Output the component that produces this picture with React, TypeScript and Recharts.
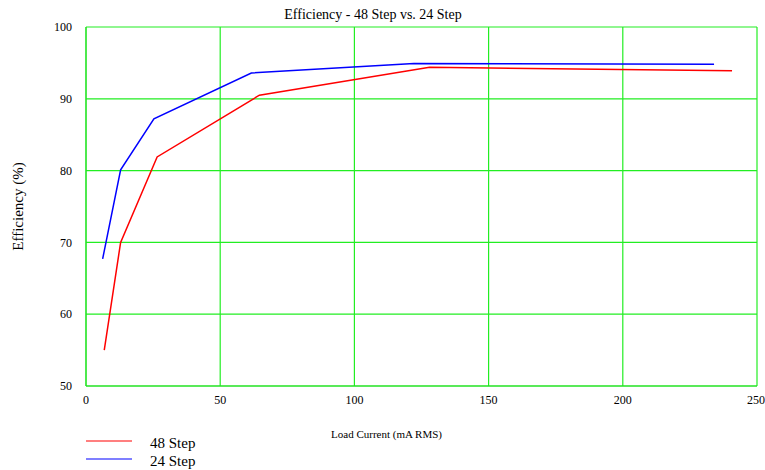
import React from 'react';
import { LineChart, Line, XAxis, YAxis, CartesianGrid, Label } from 'recharts';

const step48X = [6.8, 12.9, 26.5, 64.6, 128, 240.7];
const step48Y = [55.0, 70.0, 81.9, 90.5, 94.4, 93.9];
const step24X = [6.2, 12.9, 25.3, 61.6, 122.2, 234];
const step24Y = [67.7, 80.1, 87.2, 93.6, 94.9, 94.8];
const xTicks = [0, 50, 100, 150, 200, 250];
const yTicks = [50, 60, 70, 80, 90, 100];

const data48 = step48X.map((x, i) => ({ x, y: step48Y[i] }));
const data24 = step24X.map((x, i) => ({ x, y: step24Y[i] }));

const seriesList = [
  { name: '48 Step', color: '#ff0000', data: data48 },
  { name: '24 Step', color: '#0000ff', data: data24 },
];

const font = '"Liberation Serif", "Times New Roman", serif';

export default function App() {
  return (
    <div style={{ position: 'absolute', left: 0, top: 0, width: 765, height: 470, background: '#fff' }}>
      <div style={{ position: 'absolute', left: 0, width: 746, top: 7, textAlign: 'center', fontFamily: font, fontSize: 14, color: '#000', lineHeight: '16px' }}>
        Efficiency - 48 Step vs. 24 Step
      </div>
      <LineChart width={765} height={470} margin={{ top: 27, right: 8, left: 26, bottom: 54 }}>
        <CartesianGrid stroke="#22ee22" strokeWidth={1.2} horizontal vertical />
        <XAxis
          type="number"
          dataKey="x"
          domain={[0, 250]}
          ticks={xTicks}
          allowDataOverflow
          height={30}
          tickLine={false}
          axisLine={{ stroke: '#22dd22' }}
          tickSize={0}
          tickMargin={9}
          tick={{ fontFamily: font, fontSize: 12, fill: '#000' }}
        >
          <Label value="Load Current (mA RMS)" position="insideBottom" offset={-22} dx={-35} style={{ fontFamily: font, fontSize: 11, fill: '#000' }} />
        </XAxis>
        <YAxis
          type="number"
          domain={[50, 100]}
          ticks={yTicks}
          width={60}
          tickLine={false}
          axisLine={{ stroke: '#22dd22' }}
          tickSize={0}
          tickMargin={14}
          tick={{ fontFamily: font, fontSize: 12, fill: '#000' }}
        >
          <Label value="Efficiency (%)" angle={-90} position="insideLeft" offset={-8} style={{ fontFamily: font, fontSize: 15, fill: '#000', textAnchor: 'middle' }} />
        </YAxis>
        {seriesList.map((s) => (
          <Line
            key={s.name}
            data={s.data}
            dataKey="y"
            name={s.name}
            stroke={s.color}
            strokeWidth={1.5}
            dot={false}
            type="linear"
            isAnimationActive={false}
          />
        ))}
      </LineChart>
      <svg width={200} height={40} style={{ position: 'absolute', left: 86, top: 435 }}>
        {seriesList.map((s, i) => (
          <g key={s.name}>
            <line x1={0} x2={46} y1={6 + i * 18} y2={6 + i * 18} stroke={s.color} strokeWidth={1.2} />
            <text x={64} y={13 + i * 18} fontFamily={font} fontSize={15} fill="#000">{s.name}</text>
          </g>
        ))}
      </svg>
    </div>
  );
}
